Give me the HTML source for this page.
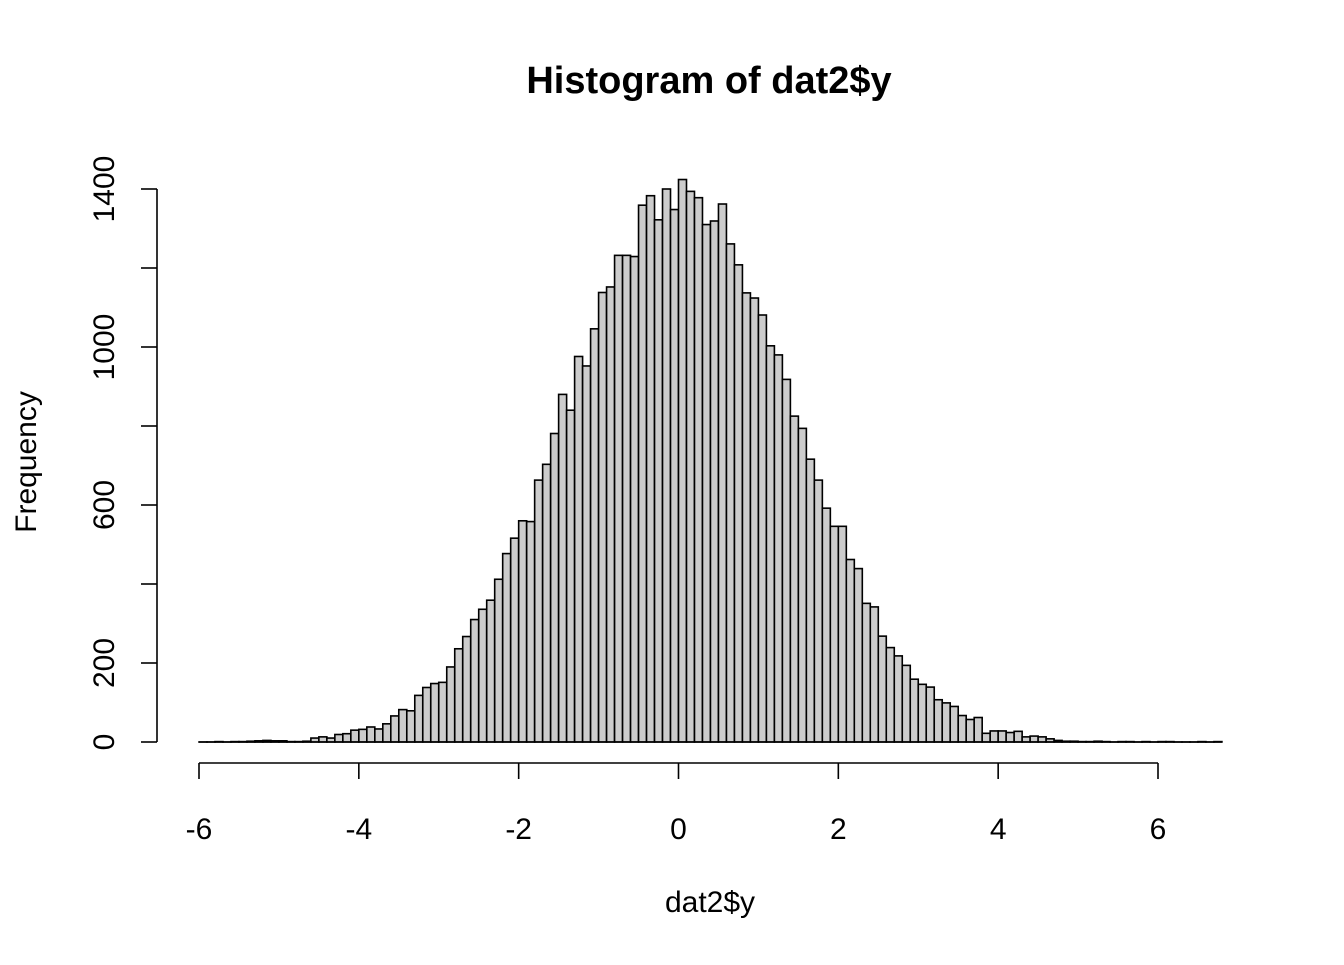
<!DOCTYPE html>
<html><head><meta charset="utf-8"><style>
html,body{margin:0;padding:0;background:#fff;}
svg text{font-family:"Liberation Sans",Arial,sans-serif;fill:#000;}
</style></head><body>
<svg id="chart" width="1344" height="960" viewBox="0 0 1344 960" xmlns="http://www.w3.org/2000/svg">
<rect width="1344" height="960" fill="#fff"/>
<text x="709" y="93" font-size="38" font-weight="bold" text-anchor="middle">Histogram of dat2$y</text>
<text x="710" y="912" font-size="30" text-anchor="middle">dat2$y</text>
<text x="0" y="0" font-size="30" text-anchor="middle" transform="translate(36,462) rotate(-90)">Frequency</text>
<g id="bars"></g>
<g id="xaxis"></g>
<g id="yaxis"></g>
</svg>
<script>
const binStart = -6;
const binWidth = 0.1;
const counts = [0,0,1,0,1,1,2,3,4,3,3,1,1,2,
10,13,10,19,21,30,32,38,33,46,66,82,79,118,138,148,151,190,236,267,310,336,359,
412,477,516,560,558,663,703,781,880,840,976,952,1046,1138,1152,1232,1232,1229,1359,1383,1322,1400,1348,1424,1394,1378,
1310,1319,1362,1261,1208,1137,1124,1081,1003,980,918,825,794,716,663,592,546,546,462,439,
351,342,268,239,218,194,159,146,139,107,99,90,67,57,62,22,28,28,24,27,13,15,13,8,4,
2,2,1,1,2,1,0,1,1,0,1,0,1,1,0,0,0,1,0,1];
const xTicks = [-6,-4,-2,0,2,4,6];
const yTicks = [0,200,400,600,800,1000,1200,1400];
const yTickLabels = ["0","200","","600","","1000","","1400"];

const NS = "http://www.w3.org/2000/svg";
function xs(v){ return 199 + (v + 6) * (1158 - 199) / 12; }
function ys(v){ return 742 - v * (742 - 189) / 1400; }
function mk(tag, attrs, parent){ const e=document.createElementNS(NS,tag); for(const k in attrs) e.setAttribute(k,attrs[k]); parent.appendChild(e); return e; }

const bars = document.getElementById('bars');
counts.forEach((c,i)=>{
  const x0 = xs(binStart + i*binWidth), x1 = xs(binStart + (i+1)*binWidth);
  const h = Math.max(ys(0)-ys(c), 0.01);
  const r = mk('rect',{x:x0,y:ys(0)-h,width:x1-x0,height:h,fill:'#cccccc',stroke:'#000','stroke-width':1.6},bars);
  
  
});
const base = mk('line',{x1:xs(binStart),x2:xs(binStart+counts.length*binWidth),y1:ys(0),y2:ys(0),stroke:'#000','stroke-width':1.6},bars);



const xa = document.getElementById('xaxis');
const xl = mk('line',{x1:xs(xTicks[0]),x2:xs(xTicks[xTicks.length-1]),y1:763,y2:763,stroke:'#000','stroke-width':1.6},xa);


xTicks.forEach(t=>{
  const tk = mk('line',{x1:xs(t),x2:xs(t),y1:763,y2:779,stroke:'#000','stroke-width':1.6},xa);
  
  
  const tx = mk('text',{x:xs(t),y:839,'font-size':30,'text-anchor':'middle'},xa);
  tx.textContent = String(t);
  
  
});

const ya = document.getElementById('yaxis');
const yl = mk('line',{x1:157,x2:157,y1:ys(yTicks[0]),y2:ys(yTicks[yTicks.length-1]),stroke:'#000','stroke-width':1.6},ya);


yTicks.forEach((t,i)=>{
  const tk = mk('line',{x1:141,x2:157,y1:ys(t),y2:ys(t),stroke:'#000','stroke-width':1.6},ya);
  
  
  if(yTickLabels[i]){
    const tx = mk('text',{x:0,y:0,'font-size':30,'text-anchor':'middle',transform:'translate(114,'+ys(t)+') rotate(-90)'},ya);
    tx.textContent = yTickLabels[i];
    
    
  }
});
</script>
</body></html>
